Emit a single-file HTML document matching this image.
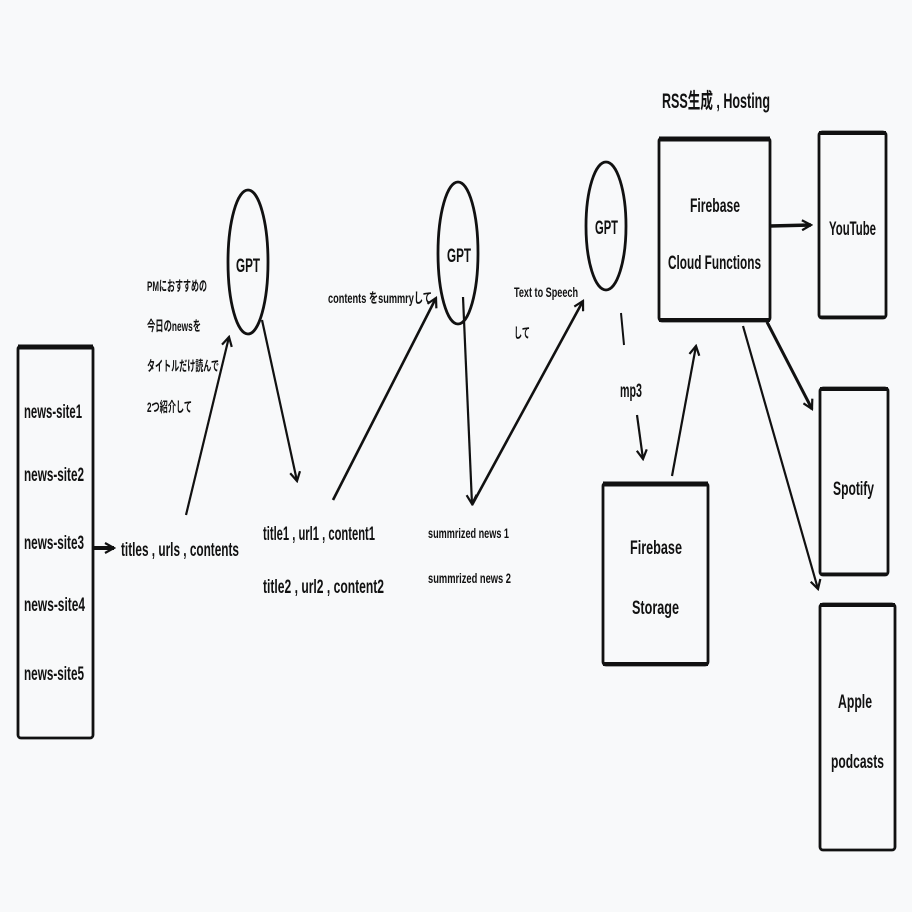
<!DOCTYPE html>
<html><head><meta charset="utf-8"><style>
html,body{margin:0;padding:0;background:#f8f9fa;}
svg{display:block}
text{font-family:"Liberation Sans","Noto Sans CJK JP",sans-serif;fill:#111;}
.b{font-weight:bold}
</style></head><body>
<svg width="912" height="912" viewBox="0 0 912 912" xmlns="http://www.w3.org/2000/svg">
<defs>
<marker id="ah" viewBox="0 0 12 12" refX="10" refY="6" markerWidth="12" markerHeight="12" markerUnits="userSpaceOnUse" orient="auto">
<path d="M1,1 L10,6 L1,11" fill="none" stroke="#111" stroke-width="2.2"/>
</marker>
</defs>
<rect width="912" height="912" fill="#f8f9fa"/>
<g fill="none" stroke="#111" stroke-width="2.8">
<rect x="18" y="346" width="75" height="392" rx="3"/>
<line x1="18" y1="347" x2="93" y2="347" stroke-width="5"/>
<rect x="603" y="483" width="105" height="182" rx="3"/>
<line x1="603" y1="484" x2="708" y2="484" stroke-width="5"/>
<line x1="603" y1="664" x2="708" y2="664" stroke-width="4"/>
<rect x="659" y="138" width="111" height="183" rx="3"/>
<line x1="659" y1="139" x2="770" y2="139" stroke-width="5"/>
<line x1="659" y1="320" x2="770" y2="320" stroke-width="4"/>
<rect x="819" y="132" width="67" height="186" rx="3"/>
<line x1="819" y1="133" x2="886" y2="133" stroke-width="4"/>
<line x1="819" y1="317" x2="886" y2="317" stroke-width="3"/>
<rect x="820" y="388" width="68" height="187" rx="3"/>
<line x1="820" y1="389" x2="888" y2="389" stroke-width="4"/>
<line x1="820" y1="574" x2="888" y2="574" stroke-width="3"/>
<rect x="820" y="604" width="75" height="246" rx="3"/>
<line x1="820" y1="605" x2="895" y2="605" stroke-width="4"/>
<ellipse cx="248" cy="262" rx="20" ry="72"/>
<ellipse cx="458" cy="253" rx="20" ry="71"/>
<ellipse cx="606" cy="226" rx="20" ry="64"/>
</g>
<g fill="none" stroke="#111" stroke-width="2.2" marker-end="url(#ah)">
<line x1="93" y1="548" x2="114" y2="548" stroke-width="4"/>
<line x1="186" y1="515" x2="229" y2="337"/>
<line x1="262" y1="320" x2="297" y2="481"/>
<line x1="333" y1="500" x2="436" y2="298" stroke-width="2.6"/>
<line x1="463" y1="297" x2="472" y2="504"/>
<line x1="472" y1="505" x2="583" y2="301" stroke-width="2.6"/>
<line x1="637" y1="415" x2="643" y2="459"/>
<line x1="672" y1="476" x2="696" y2="346"/>
<line x1="770" y1="226" x2="811" y2="225" stroke-width="3.5"/>
<line x1="767" y1="322" x2="812" y2="409" stroke-width="3"/>
<line x1="743" y1="326" x2="818" y2="589"/>
</g>
<line x1="621" y1="313" x2="624" y2="345" stroke="#111" stroke-width="2"/>
<g class="b" font-size="19">
<text x="24" y="418" textLength="58" lengthAdjust="spacingAndGlyphs">news-site1</text>
<text x="24" y="481" textLength="60" lengthAdjust="spacingAndGlyphs">news-site2</text>
<text x="24" y="549" textLength="60" lengthAdjust="spacingAndGlyphs">news-site3</text>
<text x="24" y="611" textLength="61" lengthAdjust="spacingAndGlyphs">news-site4</text>
<text x="24" y="680" textLength="60" lengthAdjust="spacingAndGlyphs">news-site5</text>
<text x="121" y="556" textLength="118" lengthAdjust="spacingAndGlyphs">titles , urls , contents</text>
<text x="263" y="540" textLength="112" lengthAdjust="spacingAndGlyphs">title1 , url1 , content1</text>
<text x="263" y="593" textLength="121" lengthAdjust="spacingAndGlyphs">title2 , url2 , content2</text>
<text x="236" y="272" textLength="24" lengthAdjust="spacingAndGlyphs">GPT</text>
<text x="447" y="262" textLength="24" lengthAdjust="spacingAndGlyphs">GPT</text>
<text x="595" y="234" textLength="23" lengthAdjust="spacingAndGlyphs">GPT</text>
<text x="620" y="397" textLength="22" lengthAdjust="spacingAndGlyphs">mp3</text>
<text x="630" y="554" textLength="52" lengthAdjust="spacingAndGlyphs">Firebase</text>
<text x="632" y="614" textLength="47" lengthAdjust="spacingAndGlyphs">Storage</text>
<text x="690" y="212" textLength="50" lengthAdjust="spacingAndGlyphs">Firebase</text>
<text x="668" y="269" textLength="93" lengthAdjust="spacingAndGlyphs">Cloud Functions</text>
<text x="662" y="108" font-size="21" textLength="108" lengthAdjust="spacingAndGlyphs">RSS生成 , Hosting</text>
<text x="829" y="235" textLength="47" lengthAdjust="spacingAndGlyphs">YouTube</text>
<text x="833" y="495" textLength="41" lengthAdjust="spacingAndGlyphs">Spotify</text>
<text x="838" y="708" textLength="34" lengthAdjust="spacingAndGlyphs">Apple</text>
<text x="831" y="768" textLength="53" lengthAdjust="spacingAndGlyphs">podcasts</text>
</g>
<g font-size="14" font-weight="600">
<text x="147" y="291" textLength="60" lengthAdjust="spacingAndGlyphs">PMにおすすめの</text>
<text x="147" y="331" textLength="54" lengthAdjust="spacingAndGlyphs">今日のnewsを</text>
<text x="147" y="371" textLength="72" lengthAdjust="spacingAndGlyphs">タイトルだけ読んで</text>
<text x="147" y="412" textLength="45" lengthAdjust="spacingAndGlyphs">2つ紹介して</text>
<text x="328" y="303" textLength="104" lengthAdjust="spacingAndGlyphs">contents をsummryして</text>
<text x="514" y="297" textLength="64" lengthAdjust="spacingAndGlyphs">Text to Speech</text>
<text x="514" y="338" textLength="16" lengthAdjust="spacingAndGlyphs">して</text>
<text x="428" y="538" textLength="81" lengthAdjust="spacingAndGlyphs">summrized news 1</text>
<text x="428" y="583" textLength="83" lengthAdjust="spacingAndGlyphs">summrized news 2</text>
</g>
</svg>
</body></html>
